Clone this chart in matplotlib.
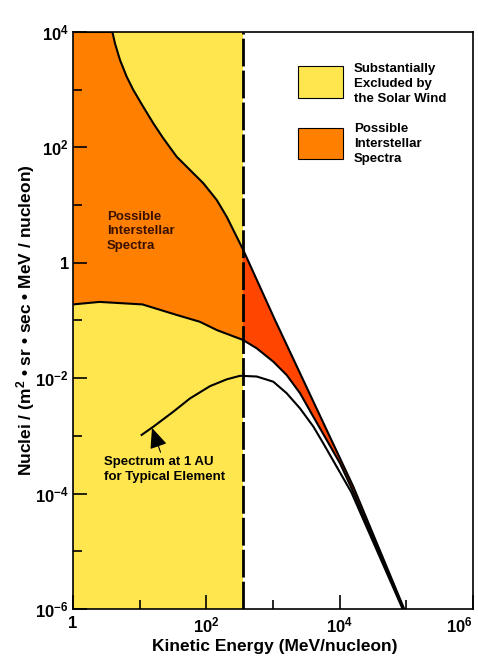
import numpy as np
import matplotlib
matplotlib.use('Agg')
import matplotlib.pyplot as plt
from matplotlib.patches import Rectangle

plt.rcParams['font.family'] = ['Liberation Sans', 'DejaVu Sans']
plt.rcParams['font.weight'] = 'bold'
plt.rcParams['mathtext.fontset'] = 'custom'
plt.rcParams['mathtext.rm'] = 'Liberation Sans:bold'
plt.rcParams['mathtext.it'] = 'Liberation Sans:bold'
plt.rcParams['mathtext.bf'] = 'Liberation Sans:bold'

YELLOW = '#ffe64f'
ORANGE = '#ff8000'
RED = '#ff4500'

# solar wind cut-off (MeV/nucleon)
E_CUT = 355

# upper bound of possible interstellar spectra
upper_E = [1, 3.9, 4.27, 5.07, 6.39, 8.03, 11.3, 16, 22.6, 35.9, 56.9, 90.2,
           143, 202, 285, 355, 1072, 16030, 93000]
upper_I = [1e4, 1e4, 6300, 3270, 1680, 990, 507, 262, 144, 69, 40.6, 23.9,
           12.3, 6.3, 2.83, 1.7, 0.102, 1.32e-4, 1e-6]

# lower bound of possible interstellar spectra
lower_E = [1, 2.5, 11, 35, 80, 145, 355, 569, 1012, 1603, 2541, 4027, 6383,
           10116, 15136, 90000]
lower_I = [0.19, 0.21, 0.19, 0.126, 0.095, 0.068, 0.046, 0.033, 0.0193,
           0.01135, 5.5e-3, 2.15e-3, 8.5e-4, 3.35e-4, 1.23e-4, 1e-6]

# spectrum measured at 1 AU
au_E = [10.7, 16, 32, 57, 114, 202, 320, 570, 1010, 1600, 2540, 4030, 5690,
        15000, 88000]
au_I = [1.04e-3, 1.44e-3, 2.63e-3, 4.47e-3, 7.3e-3, 9.55e-3, 0.011, 0.0107,
        8.7e-3, 5.5e-3, 3.0e-3, 1.45e-3, 7.4e-4, 1.05e-4, 1e-6]

xticks = [1, 1e2, 1e4, 1e6]
xtick_labels = ['1', r'$10^{2}$', r'$10^{4}$', r'$10^{6}$']
yticks = [1e-6, 1e-4, 1e-2, 1, 1e2, 1e4]
ytick_labels = [r'$10^{-6}$', r'$10^{-4}$', r'$10^{-2}$', '1', r'$10^{2}$', r'$10^{4}$']

fig = plt.figure(figsize=(4.78, 6.6), dpi=100)
ax = fig.add_axes([73 / 478, 1 - 609 / 660, (473 - 73) / 478, (609 - 32) / 660])
ax.set_xscale('log')
ax.set_yscale('log')
ax.set_xlim(1, 1e6)
ax.set_ylim(1e-6, 1e4)

ax.axvspan(1, E_CUT, color=YELLOW, lw=0, zorder=0)

ue = np.array(upper_E, float)
ui = np.array(upper_I, float)
le = np.array(lower_E, float)
li = np.array(lower_I, float)

m_u = ue <= E_CUT
m_l = le <= E_CUT
ax.fill(np.concatenate([ue[m_u], le[m_l][::-1]]),
        np.concatenate([ui[m_u], li[m_l][::-1]]), color=ORANGE, lw=0, zorder=1)
m_u = ue >= E_CUT
m_l = le >= E_CUT
ax.fill(np.concatenate([ue[m_u], le[m_l][::-1]]),
        np.concatenate([ui[m_u], li[m_l][::-1]]), color=RED, lw=0, zorder=1)

ax.plot(ue, ui, color='black', lw=1.5, zorder=3)
ax.plot(le, li, color='black', lw=1.5, zorder=3)
ax.plot(au_E, au_I, color='black', lw=1.5, zorder=3)

ax.axvline(E_CUT, color='black', lw=2, ls=(0, (10, 1.5)), zorder=4)

ax.text(3.2, 3.5, 'Possible\nInterstellar\nSpectra', fontsize=9.5, color='#3a1000',
        ha='left', va='center', linespacing=1.3)

ax.annotate('Spectrum at 1 AU\nfor Typical Element', xy=(15.3, 1.38e-3),
            xytext=(2.9, 2.6e-4), fontsize=9.5, ha='left', va='center', linespacing=1.3,
            arrowprops=dict(arrowstyle='-|>,head_length=0.7,head_width=0.3',
                            color='black', lw=0.8, mutation_scale=18,
                            shrinkA=1, shrinkB=0, relpos=(0.48, 1.0)))

ax.set_xticks(xticks)
ax.set_xticklabels(xtick_labels)
ax.set_yticks(yticks)
ax.set_yticklabels(ytick_labels)
ax.get_xticklabels()[-1].set_horizontalalignment('right')
ax.set_xticks([10, 1e3, 1e5], minor=True)
ax.set_yticks([1e-5, 1e-3, 1e-1, 10, 1e3], minor=True)
ax.xaxis.set_minor_formatter(plt.NullFormatter())
ax.yaxis.set_minor_formatter(plt.NullFormatter())
ax.tick_params(which='both', direction='in', top=False, right=False,
               labelsize=12, width=1.2)
ax.tick_params(which='major', length=10)
ax.tick_params(which='minor', length=6.5)
ax.tick_params(axis='x', pad=5)
ax.tick_params(axis='y', pad=3)
for s in ax.spines.values():
    s.set_linewidth(1.2)
    s.set_zorder(5)

ax.set_xlabel('Kinetic Energy (MeV/nucleon)', fontsize=12.5, fontweight='bold')
ax.set_ylabel(r'Nuclei / (m$^{2}$ • sr • sec • MeV / nucleon)', fontsize=12.5,
              fontweight='bold')
ax.xaxis.set_label_coords(0.505, -0.052)
ax.yaxis.set_label_coords(-0.09, 0.5)

# legend boxes
fig.patches.append(Rectangle((298 / 478, 1 - 98 / 660), 45 / 478, 32 / 660,
                             transform=fig.transFigure, facecolor=YELLOW,
                             edgecolor='black', lw=0.8))
fig.patches.append(Rectangle((298 / 478, 1 - 159 / 660), 45 / 478, 31 / 660,
                             transform=fig.transFigure, facecolor=ORANGE,
                             edgecolor='black', lw=0.8))
fig.text(354 / 478, 1 - 84 / 660, 'Substantially\nExcluded by\nthe Solar Wind',
         fontsize=9.5, ha='left', va='center', linespacing=1.3)
fig.text(354 / 478, 1 - 144 / 660, 'Possible\nInterstellar\nSpectra',
         fontsize=9.5, ha='left', va='center', linespacing=1.3)

fig.savefig('out.png', dpi=100)
